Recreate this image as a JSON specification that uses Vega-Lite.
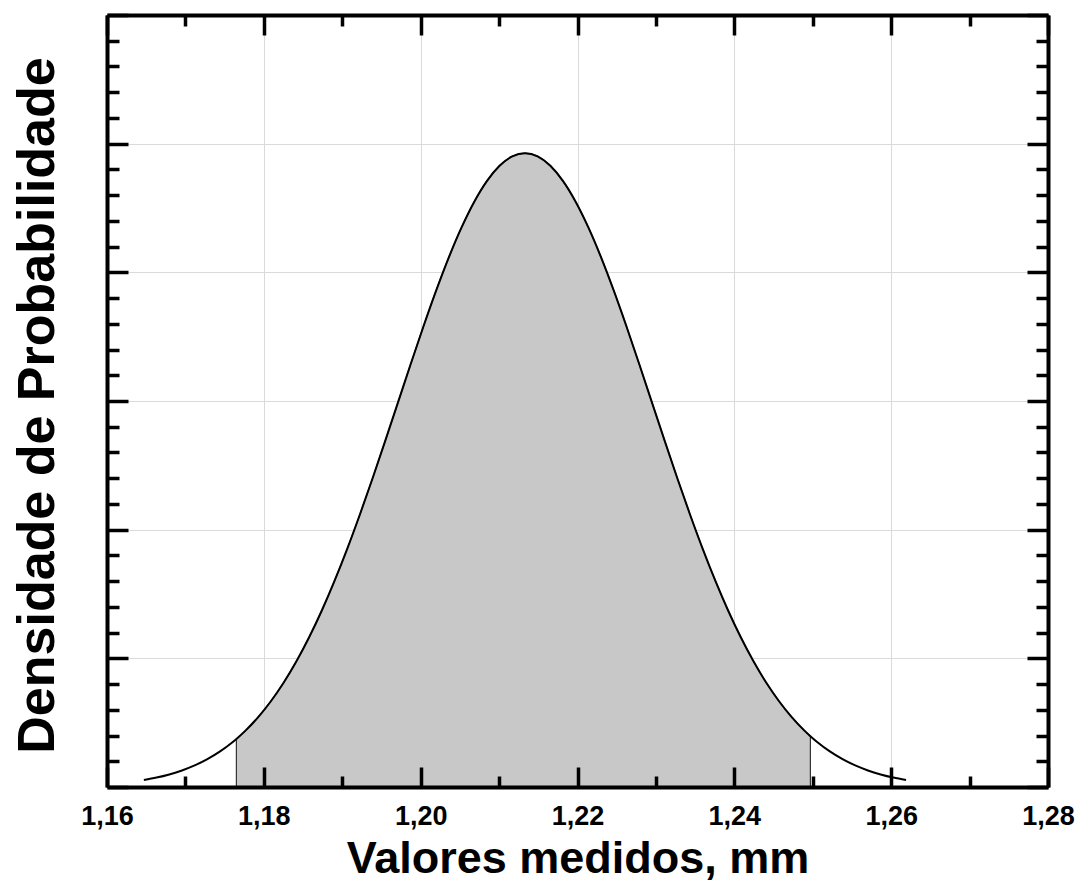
{
"$schema": "https://vega.github.io/schema/vega-lite/v6.json",
"width": 941,
"height": 772,
"autosize": {"type": "none"},
"padding": {"left": 107, "top": 15, "right": 35, "bottom": 95},
"background": "white",
"config": {"view": {"stroke": null}},
"data": {"values": [
{"x":1.1647,"y":0.274},
{"x":1.16632,"y":0.367},
{"x":1.16794,"y":0.489},
{"x":1.16956,"y":0.643},
{"x":1.17118,"y":0.839},
{"x":1.1728,"y":1.082},
{"x":1.17442,"y":1.382},
{"x":1.17604,"y":1.749},
{"x":1.1765,"y":1.866},
{"x":1.17766,"y":2.19},
{"x":1.17928,"y":2.715},
{"x":1.1809,"y":3.333},
{"x":1.18252,"y":4.051},
{"x":1.18414,"y":4.874},
{"x":1.18576,"y":5.807},
{"x":1.18738,"y":6.848},
{"x":1.189,"y":7.996},
{"x":1.19062,"y":9.244},
{"x":1.19224,"y":10.58},
{"x":1.19386,"y":11.989},
{"x":1.19548,"y":13.45},
{"x":1.1971,"y":14.939},
{"x":1.19872,"y":16.428},
{"x":1.20034,"y":17.885},
{"x":1.20196,"y":19.278},
{"x":1.20358,"y":20.573},
{"x":1.2052,"y":21.736},
{"x":1.20682,"y":22.736},
{"x":1.20844,"y":23.546},
{"x":1.21006,"y":24.142},
{"x":1.21168,"y":24.507},
{"x":1.2133,"y":24.63},
{"x":1.21492,"y":24.507},
{"x":1.21654,"y":24.142},
{"x":1.21816,"y":23.546},
{"x":1.21978,"y":22.736},
{"x":1.2214,"y":21.736},
{"x":1.22302,"y":20.573},
{"x":1.22464,"y":19.278},
{"x":1.22626,"y":17.885},
{"x":1.22788,"y":16.428},
{"x":1.2295,"y":14.939},
{"x":1.23112,"y":13.45},
{"x":1.23274,"y":11.989},
{"x":1.23436,"y":10.58},
{"x":1.23598,"y":9.244},
{"x":1.2376,"y":7.996},
{"x":1.23922,"y":6.848},
{"x":1.24084,"y":5.807},
{"x":1.24246,"y":4.874},
{"x":1.24408,"y":4.051},
{"x":1.2457,"y":3.333},
{"x":1.24732,"y":2.715},
{"x":1.24894,"y":2.19},
{"x":1.2497,"y":1.973},
{"x":1.25056,"y":1.749},
{"x":1.25218,"y":1.382},
{"x":1.2538,"y":1.082},
{"x":1.25542,"y":0.839},
{"x":1.25704,"y":0.643},
{"x":1.25866,"y":0.489},
{"x":1.26028,"y":0.367},
{"x":1.2619,"y":0.274}
]},
"layer": [
{
"transform": [{"filter": "datum.x >= 1.1765 && datum.x <= 1.2497"}],
"mark": {"type": "area", "fill": "#c8c8c8", "stroke": "#333333", "strokeWidth": 1.2, "interpolate": "monotone"},
"encoding": {
"x": {"field": "x", "type": "quantitative", "scale": {"domain": [1.16, 1.28], "nice": false, "zero": false},
"axis": {"orient": "bottom", "values": [1.16, 1.18, 1.2, 1.22, 1.24, 1.26, 1.28], "grid": true, "gridColor": "#dadada", "gridWidth": 1, "domain": false, "ticks": false, "labels": false, "title": null, "zindex": 0}},
"y": {"field": "y", "type": "quantitative", "scale": {"domain": [0, 30], "nice": false},
"axis": {"orient": "left", "values": [5, 10, 15, 20, 25], "grid": true, "gridColor": "#dadada", "gridWidth": 1, "domain": false, "ticks": false, "labels": false, "title": null, "zindex": 0}}
}
},
{
"mark": {"type": "line", "color": "#000000", "strokeWidth": 2, "interpolate": "monotone"},
"encoding": {
"x": {"field": "x", "type": "quantitative",
"axis": {"orient": "bottom", "values": [1.16, 1.17, 1.18, 1.19, 1.2, 1.21, 1.22, 1.23, 1.24, 1.25, 1.26, 1.27, 1.28], "grid": false, "domain": true, "domainColor": "#000000", "domainWidth": 4, "ticks": true, "tickColor": "#000000", "tickWidth": 3.5,
"tickSize": {"condition": {"test": "round(datum.value*100)%2==0", "value": -20}, "value": -11},
"labelExpr": "round(datum.value*100)%2==0 ? replace(format(datum.value,'.2f'),'.',',') : ''",
"labelFont": "Liberation Sans", "labelFontSize": 27, "labelFontWeight": "bold", "labelColor": "#000000", "labelPadding": 36, "labelFlush": false, "labelOverlap": false, "labelBaseline": "top",
"title": "Valores medidos, mm", "titleFont": "Liberation Sans", "titleFontSize": 45, "titleFontWeight": "bold", "titleColor": "#000000", "titleX": 470.5, "titleY": 85, "titleBaseline": "alphabetic", "titleAlign": "center", "zindex": 1}},
"y": {"field": "y", "type": "quantitative",
"axis": {"orient": "left", "values": [0,1,2,3,4,5,6,7,8,9,10,11,12,13,14,15,16,17,18,19,20,21,22,23,24,25,26,27,28,29,30], "grid": false, "domain": true, "domainColor": "#000000", "domainWidth": 4, "ticks": true, "tickColor": "#000000", "tickWidth": 3.5,
"tickSize": {"condition": {"test": "datum.value%5==0", "value": -21}, "value": -12},
"labels": false,
"title": "Densidade de Probabilidade", "titleFont": "Liberation Sans", "titleFontSize": 52, "titleFontWeight": "bold", "titleColor": "#000000", "titleX": -54, "titleY": 390, "titleBaseline": "alphabetic", "titleAlign": "center", "titleAngle": 270, "zindex": 1}}
}
},
{
"mark": {"type": "line", "strokeOpacity": 0},
"encoding": {
"x": {"field": "x", "type": "quantitative",
"axis": {"orient": "top", "values": [1.16, 1.17, 1.18, 1.19, 1.2, 1.21, 1.22, 1.23, 1.24, 1.25, 1.26, 1.27, 1.28], "grid": false, "domain": true, "domainColor": "#000000", "domainWidth": 4, "ticks": true, "tickColor": "#000000", "tickWidth": 3.5,
"tickSize": {"condition": {"test": "round(datum.value*100)%2==0", "value": -20}, "value": -11},
"labels": false, "title": null, "zindex": 1}},
"y": {"field": "y", "type": "quantitative",
"axis": {"orient": "right", "values": [0,1,2,3,4,5,6,7,8,9,10,11,12,13,14,15,16,17,18,19,20,21,22,23,24,25,26,27,28,29,30], "grid": false, "domain": true, "domainColor": "#000000", "domainWidth": 4, "ticks": true, "tickColor": "#000000", "tickWidth": 3.5,
"tickSize": {"condition": {"test": "datum.value%5==0", "value": -21}, "value": -12},
"labels": false, "title": null, "zindex": 1}}
}
}
],
"resolve": {"axis": {"x": "independent", "y": "independent"}}
}
